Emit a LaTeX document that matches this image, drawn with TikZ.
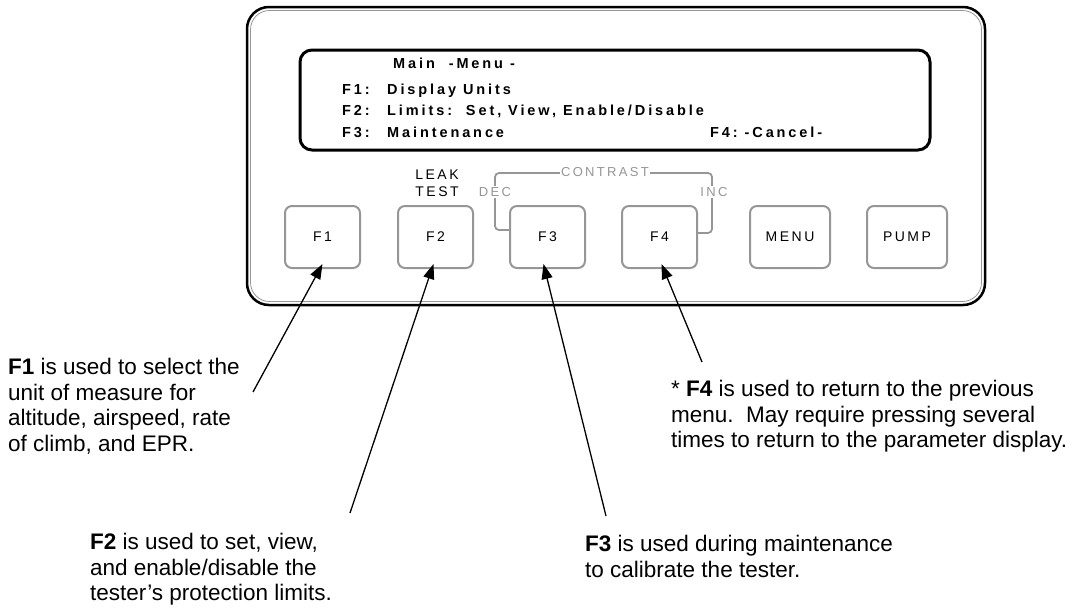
\documentclass[tikz,border=0pt]{standalone}
\usepackage{fontspec}
\setmainfont{Liberation Sans}
\newfontfamily\lcdfont[LetterSpace=20]{Liberation Sans}
\newfontfamily\keyfont[LetterSpace=18]{Liberation Sans}
\usetikzlibrary{arrows.meta}
\definecolor{keygray}{RGB}{150,150,150}
\tikzstyle{key} = [draw=keygray, line width=2pt, rounded corners=7pt, minimum width=75pt, minimum height=62pt, inner sep=0pt, font=\keyfont\fontsize{14}{16}\selectfont]
\tikzstyle{lcd} = [anchor=base west, inner sep=0pt, font=\lcdfont\bfseries\fontsize{14.5}{17}\selectfont]
\tikzstyle{tag} = [text=keygray, fill=white, inner sep=1.5pt, font=\keyfont\fontsize{13}{15}\selectfont]
\tikzstyle{note} = [anchor=north west, align=left, inner sep=0pt, font=\fontsize{22.5}{25.5}\selectfont]
\tikzstyle{pointer} = [-{Triangle[length=15pt,width=11pt]}, line width=1.3pt]

\begin{document}
\begin{tikzpicture}[x=1pt, y=-1pt]
	  \useasboundingbox (0,0) rectangle (1073,611);

	  % front panel and display
	  \draw [line width=2.5pt, rounded corners=22pt] (247,7) rectangle (985,305);
	  \draw [keygray, line width=0.8pt, rounded corners=19pt] (250.5,10.5) rectangle (981.5,301.5);
	  \draw [line width=3pt, rounded corners=12pt] (300,50) rectangle (930,150);

	  \node (m0) at (393,68) [lcd] {Main\ \ -Menu\ -};
	  \node (m1) at (342,94) [lcd] {\makebox[45pt][l]{F1:}Display Units};
	  \node (m2) at (342,115) [lcd] {\makebox[45pt][l]{F2:}Limits:\ \ Set, View, Enable/Disable};
	  \node (m3) at (342,137) [lcd] {\makebox[45pt][l]{F3:}Maintenance};
	  \node (m4) at (710,137) [lcd] {F4:\ -Cancel-};

	  % keys
	  \node (f1) at (322.5,237) [key] {F1};
	  \node (f2) at (435.5,237) [key] {F2};
	  \node (f3) at (547.5,237) [key] {F3};
	  \node (f4) at (659.5,237) [key] {F4};
	  \node (menu) at (790,237) [key, minimum width=80pt] {MENU};
	  \node (pump) at (907,237) [key, minimum width=80pt] {PUMP};

	  \node (leak) at (437,183) [align=center, inner sep=0pt, font=\keyfont\fontsize{14}{17}\selectfont] {LEAK\\TEST};

	  \draw [keygray, line width=1.8pt, rounded corners=4pt] ([yshift=7pt]f3.west) -| (495,173) -| (712,233) -- ([yshift=4pt]f4.east);
	  \node (contrast) at (605,172) [tag] {CONTRAST};
	  \node (dec) at (495,192) [tag] {DEC};
	  \node (inc) at (714,192) [tag] {INC};

	  % callouts
	  \node (n1) at (8,358) [note] {\textbf{F1} is used to select the\\unit of measure for\\altitude, airspeed, rate\\of climb, and EPR.};
	  \node (n4) at (671,380) [note] {* \textbf{F4} is used to return to the previous\\menu.\ \ May require pressing several\\times to return to the parameter display.};
	  \node (n2) at (90,533) [note] {\textbf{F2} is used to set, view,\\and enable/disable the\\tester’s protection limits.};
	  \node (n3) at (585,535) [note] {\textbf{F3} is used during maintenance\\to calibrate the tester.};

	  \coordinate (t1) at (253,392);
	  \coordinate (t2) at (350,513);
	  \coordinate (t3) at (606,516);
	  \coordinate (t4) at (702,362);

	  \draw [pointer] (t1) to ([yshift=5pt]f1.south);
	  \draw [pointer] (t2) to ([xshift=-2pt,yshift=5pt]f2.south);
	  \draw [pointer] (t3) to ([xshift=-4pt,yshift=5pt]f3.south);
	  \draw [pointer] (t4) to ([xshift=2pt,yshift=5pt]f4.south);
\end{tikzpicture}
\end{document}
